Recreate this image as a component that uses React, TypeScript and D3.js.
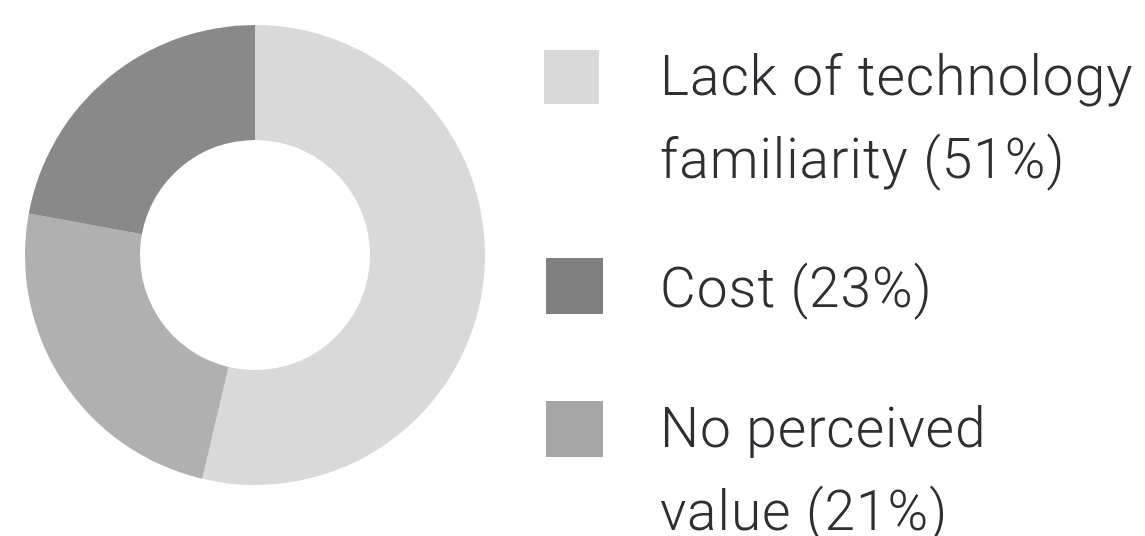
import React from "react";
import * as d3 from "d3";

const categories = ["Lack of technology familiarity", "Cost", "No perceived value"];
const values = [51, 23, 21];
const sliceColors = ["#d9d9d9", "#b0b0b0", "#898989"];
const legendLines = [
  ["Lack of technology", "familiarity (51%)"],
  ["Cost (23%)"],
  ["No perceived", "value (21%)"],
];
const legendColors = ["#d9d9d9", "#808080", "#a6a6a6"];

const W = 1145;
const H = 536;

export default function App() {
  const cx = 255;
  const cy = 255;
  const outerR = 230;
  const innerR = 115;
  const pie = d3.pie<number>().sort(null).value((d) => d)(values);
  const arc = d3.arc<d3.PieArcDatum<number>>().innerRadius(innerR).outerRadius(outerR);

  const legendX = [544, 546, 546];
  const boxTop = [50, 258, 401];
  const textX = 660;
  const baselines = [95, 307, 447];
  const lineH = 83;
  const box = 55;

  return (
    <svg
      width={W}
      height={H}
      style={{ position: "absolute", left: 0, top: 0, display: "block", background: "#fff" }}
    >
      <g transform={`translate(${cx},${cy})`}>
        {pie.map((d, i) => (
          <path key={categories[i]} d={arc(d) || ""} fill={sliceColors[i]} />
        ))}
      </g>
      {legendLines.map((lines, i) => (
        <g key={i}>
          <rect x={legendX[i]} y={boxTop[i]} width={i === 0 ? box : 57} height={i === 0 ? 54 : 56} fill={legendColors[i]} />
          <text
            x={textX}
            y={baselines[i]}
            fontFamily="Roboto, 'Helvetica Neue', sans-serif"
            fontWeight={300}
            fontSize={55}
            letterSpacing={1}
            fill="#2d2f33"
          >
            {lines.map((l, j) => (
              <tspan key={j} x={textX} y={baselines[i] + j * lineH}>
                {l}
              </tspan>
            ))}
          </text>
        </g>
      ))}
    </svg>
  );
}
